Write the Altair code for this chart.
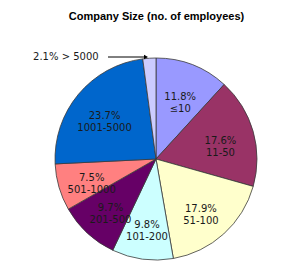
import altair as alt
import pandas as pd

categories = ["≤10", "11-50", "51-100", "101-200", "201-500", "501-1000", "1001-5000", "> 5000"]
shares = [11.8, 17.6, 17.9, 9.8, 9.7, 7.5, 23.7, 2.1]
colors = ["#9999FF", "#993366", "#FFFFCC", "#CCFFFF", "#660066", "#FF8080", "#0066CC", "#CCCCFF"]

df = pd.DataFrame({
    "cat": categories,
    "share": shares,
    "idx": list(range(len(categories))),
})
df["label"] = [f"{v}%\n{c}" for v, c in zip(shares, categories)]
df["outer"] = [f"{v}% {c}" for v, c in zip(shares, categories)]

CX, CY = 156, 129
R = 101

base = alt.Chart(df).encode(
    theta=alt.Theta("share:Q", stack=True),
    order=alt.Order("idx:Q"),
    x=alt.value(CX),
    y=alt.value(CY),
)

pie = base.mark_arc(outerRadius=R, stroke="#3a3a3a", strokeWidth=0.8).encode(
    color=alt.Color("cat:N", scale=alt.Scale(domain=categories, range=colors), legend=None),
)

inner = base.transform_filter(alt.datum.idx < 7).mark_text(
    radius=67, font="DejaVu Sans", fontSize=10, lineBreak="\n", color="#1a1a1a",
    align="center", baseline="middle",
).encode(text="label:N")

outer = base.transform_filter(alt.datum.idx == 7).mark_text(
    radius=R, font="DejaVu Sans", fontSize=10, color="#1a1a1a",
    align="right", baseline="middle", dx=-64, dy=-1,
).encode(text="outer:N")

arrow_line = alt.Chart(df).transform_filter(alt.datum.idx == 7).mark_rule(color="black", strokeWidth=1).encode(
    x=alt.value(108), x2=alt.value(144), y=alt.value(CY - 102),
)
arrow_head = alt.Chart(df).transform_filter(alt.datum.idx == 7).mark_point(
    shape="triangle-right", filled=True, color="black", size=22, opacity=1,
).encode(x=alt.value(146), y=alt.value(CY - 102))

chart = alt.layer(pie, inner, outer, arrow_line, arrow_head).properties(
    width=293, height=240,
    padding={"top": 30, "left": 0, "right": 0, "bottom": 0},
    autosize=alt.AutoSizeParams(type="none"),
    title=alt.TitleParams(
        "Company Size (no. of employees)", font="Liberation Sans", fontSize=11,
        fontWeight="bold", color="black", anchor="middle", offset=8, dx=10,
    ),
).configure_view(stroke=None)

chart.save("out.html", embed_options={"renderer": "svg", "actions": False})
